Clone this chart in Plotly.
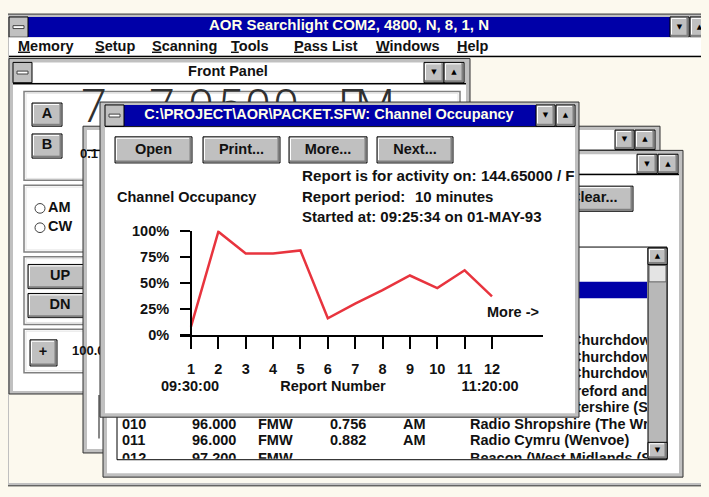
import plotly.graph_objects as go

# ---------------- data ----------------
report_numbers = [1, 2, 3, 4, 5, 6, 7, 8, 9, 10, 11, 12]
occupancy_pct = [8, 99, 78, 78, 81, 16, 30, 43, 57, 45, 62, 37]
y_tick_values = [0, 25, 50, 75, 100]
y_tick_labels = ["0%", "25%", "50%", "75%", "100%"]
x_tick_labels = [str(n) for n in report_numbers]
first_report_time = "09:30:00"
last_report_time = "11:20:00"
menu_items = ["Memory", "Setup", "Scanning", "Tools", "Pass List", "Windows", "Help"]
list_rows = [
    ["010", "96.000", "FMW", "0.756", "AM", "Radio Shropshire (The Wrekin)"],
    ["011", "96.000", "FMW", "0.882", "AM", "Radio Cymru (Wenvoe)"],
    ["012", "97.200", "FMW", "", "", "Beacon (West Midlands (Shrewsbury)"],
]
hidden_list_names = ["Churchdown)", "Churchdown)", "Churchdown)", "Hereford and Worcester", "Worcestershire (Stourport)"]

# ---------------- helpers ----------------
# The page body keeps an 8 px margin, so the figure is 16 px smaller than the
# window and every reference pixel coordinate is shifted by that margin.
PAGE_W, PAGE_H = 709, 497
M = 8
W, H = PAGE_W - 2 * M, PAGE_H - 2 * M
FONT = "Liberation Sans, Arial, sans-serif"
FS = 14.5
BLUE = "#0000A8"
GRAY = "#C0C0C0"
DARK = "#303030"
CREAM = "#FCF9EE"


def fx(x):
    return (x - M) / W


def fy(y):
    return 1 - (y - M) / H


shapes = []


def rect(x0, y0, x1, y1, fill, line=None, lw=1):
    shapes.append(dict(type="rect", xref="paper", yref="paper", layer="below",
                       x0=fx(x0), x1=fx(x1), y0=fy(y1), y1=fy(y0),
                       fillcolor=fill if fill else "rgba(0,0,0,0)",
                       line=dict(color=line if line else "rgba(0,0,0,0)", width=lw if line else 0)))


def seg(x0, y0, x1, y1, color, lw=1):
    shapes.append(dict(type="line", xref="paper", yref="paper", layer="below",
                       x0=fx(x0), x1=fx(x1), y0=fy(y0), y1=fy(y1),
                       line=dict(color=color, width=lw)))


def circle(cx, cy, r, line="#404040"):
    shapes.append(dict(type="circle", xref="paper", yref="paper", layer="below",
                       x0=fx(cx - r), x1=fx(cx + r), y0=fy(cy + r), y1=fy(cy - r),
                       fillcolor="#FFFFFF", line=dict(color=line, width=1)))


def button(x0, y0, x1, y1):
    rect(x0, y0, x1, y1, GRAY, "#000000", 1)
    seg(x0 + 1, y1 - 1.5, x1 - 1, y1 - 1.5, "#808080", 2)
    seg(x1 - 1.5, y0 + 1, x1 - 1.5, y1 - 1, "#808080", 2)
    seg(x0 + 1.5, y0 + 1.5, x1 - 3, y0 + 1.5, "#FFFFFF", 1)
    seg(x0 + 1.5, y0 + 1.5, x0 + 1.5, y1 - 3, "#FFFFFF", 1)


def sysbox(x0, y0, x1, y1):
    rect(x0, y0, x1, y1, GRAY, "#000000", 1)
    my = (y0 + y1) / 2
    rect(x0 + 4, my - 1.5, x1 - 4, my + 1.5, "#FFFFFF", "#404040", 1)


regions = []
texts = []


def region(x0, y0, x1, y1):
    x0, y0 = max(x0, M), max(y0, M)
    x1, y1 = min(x1, PAGE_W - M), min(y1, PAGE_H - M)
    regions.append((x0, y0, x1, y1))
    return len(regions) + 1  # axis index (main chart uses 1)


def T(reg, x, y, s, anchor="left", size=FS, color="#111111", weight=700, family=FONT):
    texts.append(dict(reg=reg, x=x, y=y, s=s, anchor=anchor, size=size, color=color,
                      weight=weight, family=family))


# ---------------- application window ----------------
rect(4, 6, 714, 494, GRAY, DARK, 1)
rect(28, 9, 670, 30, BLUE)
sysbox(9, 9, 28, 30)
button(670, 9, 689, 30)
button(690, 9, 709, 30)
rect(9, 30, 714, 49, "#FFFFFF")
seg(9, 50, 714, 50, "#000000", 1.5)
rect(9, 51, 714, 491, CREAM)

# ---------------- Front Panel window ----------------
rect(9, 52, 470, 399, GRAY, DARK, 1)
rect(32, 56, 424, 77, "#FFFFFF")
sysbox(13, 56, 32, 77)
button(424, 56, 444, 77)
button(444, 56, 464, 77)
seg(13, 78, 466, 78, "#000000", 1.5)
rect(13, 79, 466, 396, "#FFFFFF")
for gy0, gy1 in [(86, 178), (183, 252), (257, 327), (332, 377)]:
    rect(24, gy0, 460, gy1, None, "#808080", 1.5)
    rect(26, gy0 + 2, 458, gy1 - 2, None, "#E4E4E4", 1)
button(32, 98, 62, 122)
button(32, 130, 62, 155)
circle(40, 207, 5)
circle(40, 227, 5)
button(28, 265, 93, 290)
button(28, 295, 93, 320)
button(30, 343, 57, 370)

# ---------------- background window B ----------------
rect(83, 122, 660, 460, GRAY, DARK, 1)
rect(87, 126, 615, 146, "#FFFFFF")
button(615, 126, 634, 146)
button(635, 126, 655, 146)
seg(87, 147, 656, 147, "#000000", 1.5)
rect(87, 148, 656, 456, "#FFFFFF")
seg(99, 400, 99, 445, "#606060", 1.5)

# ---------------- background window C ----------------
rect(103, 147, 683, 485, GRAY, DARK, 1)
rect(107, 151, 637, 171, "#FFFFFF")
button(637, 151, 657, 171)
button(658, 151, 678, 171)
seg(107, 172, 679, 172, "#000000", 1.5)
rect(107, 173, 679, 481, "#FFFFFF")
button(560, 184, 633, 210)
rect(117, 247, 667, 467, "#FFFFFF", "#000000", 1)
rect(118, 283, 647, 300, BLUE)
rect(648, 248, 667, 466, "#B8B8B8", "#000000", 1)
button(648, 248, 667, 265)
rect(649, 266, 666, 283, "#E4E4E4", "#606060", 1)
button(648, 449, 667, 466)

# ---------------- Channel Occupancy window (front) ----------------
rect(100, 97, 579, 423, GRAY, DARK, 1)
rect(124, 100, 536, 122, BLUE)
sysbox(105, 100, 124, 122)
button(536, 100, 555, 122)
button(556, 100, 575, 122)
seg(105, 122.5, 575, 122.5, "#000000", 1)
rect(105, 123, 575, 419, "#FFFFFF")
for bx0, bx1 in [(115, 192), (203, 280), (289, 367), (377, 453)]:
    button(bx0, 133, bx1, 160)

# ---------------- texts ----------------
PAGE = region(0, 0, PAGE_W, PAGE_H)
FP_LEFT = region(13, 79, 100, 396)
FP_TOP = region(100, 79, 466, 97)
CHAN = region(105, 123, 575, 419)
C_RIGHT = region(579, 173, 647, 466)
C_BOTTOM = region(117, 423, 647, 466)

T(PAGE, 349, 19, "AOR Searchlight COM2, 4800, N, 8, 1, N", "center", 15, "#FFFFE8")
menu_x = [18, 95, 152, 231, 294, 376, 457]
for mx, item in zip(menu_x, menu_items):
    T(PAGE, mx, 40, "<u>" + item[0] + "</u>" + item[1:], "left")
T(PAGE, 228, 66, "Front Panel", "center")
T(PAGE, 329, 111, "C:\\PROJECT\\AOR\\PACKET.SFW: Channel Occupancy", "center", FS, "#FFFFE8")
for (ax, ay, glyph) in [(679.5, 19.5, "▼"), (699.5, 19.5, "▲"), (434, 66.5, "▼"), (454, 66.5, "▲"),
                        (624.5, 136, "▼"), (645, 136, "▲"), (647, 161, "▼"), (668, 161, "▲"),
                        (545.5, 111, "▼"), (565.5, 111, "▲"), (657.5, 256.5, "▲"), (657.5, 457.5, "▼")]:
    T(PAGE, ax, ay, glyph, "center", 7, "#000000", 400, "DejaVu Sans")

# Front panel contents
for reg in (FP_LEFT, FP_TOP):
    for gx, g in [(94, "7"), (162, "7"), (201, "0"), (230, "5"), (258, "0"), (286, "0"), (351, "F"), (375, "M")]:
        T(reg, gx, 106, g, "center", 46, "#303030", 300, "Roboto, Liberation Sans, sans-serif")
T(FP_LEFT, 47, 110, "A", "center")
T(FP_LEFT, 47, 142, "B", "center")
T(FP_LEFT, 80, 152, "0.1", "left", 13)
T(FP_LEFT, 48, 207, "AM", "left")
T(FP_LEFT, 48, 227, "CW", "left")
T(FP_LEFT, 60, 277, "UP", "center")
T(FP_LEFT, 60, 307, "DN", "center")
T(FP_LEFT, 43, 356, "+", "center")
T(FP_LEFT, 72, 355, "100.000", "left", 13)

# Channel window contents
for bx, lbl in [(153.5, "Open"), (241.5, "Print..."), (328, "More..."), (415, "Next...")]:
    T(CHAN, bx, 147, lbl, "center")
T(CHAN, 302, 175, "Report is for activity on: 144.65000 / FM", "left", 15.2)
T(CHAN, 302, 197, "Report period:", "left", 15)
T(CHAN, 415, 197, "10 minutes", "left", 15)
T(CHAN, 302, 217, "Started at: 09:25:34 on 01-MAY-93", "left", 15)
T(CHAN, 117, 197, "Channel Occupancy", "left")
T(CHAN, 487, 316, "More ->", "left")
T(CHAN, 190, 392, first_report_time, "center")
T(CHAN, 333, 392, "Report Number", "center")
T(CHAN, 490, 392, last_report_time, "center")

# Window C contents (visible parts)
T(C_RIGHT, 570, 197, "Clear...", "left")
name_offsets = [571, 571, 571, 557, 524]
for ny, nx, nm in zip([345, 362, 379, 397, 414], name_offsets, hidden_list_names):
    T(C_RIGHT, nx, ny, nm, "left")
col_x = [122, 192, 258, 330, 403, 470]
for ry, row in zip([431, 448, 467], list_rows):
    for cx, val in zip(col_x, row):
        if val:
            T(C_BOTTOM, cx, ry, val, "left")

# ---------------- figure ----------------
fig = go.Figure()

# main chart (through Plotly axes)
fig.add_trace(go.Scatter(
    x=report_numbers, y=occupancy_pct, mode="lines",
    line=dict(color="#E8343E", width=2.5), cliponaxis=False,
    hoverinfo="skip", showlegend=False, xaxis="x", yaxis="y"))

pos = {"left": "middle right", "center": "middle center", "right": "middle left"}
for t in texts:
    i = t["reg"]
    fig.add_trace(go.Scatter(
        x=[t["x"]], y=[t["y"]], mode="text", text=[t["s"]],
        textposition=pos[t["anchor"]],
        textfont=dict(family=t["family"], size=t["size"], color=t["color"], weight=t["weight"]),
        cliponaxis=True, hoverinfo="skip", showlegend=False,
        xaxis="x%d" % i, yaxis="y%d" % i))

px_per_unit = (492 - 191) / 11.0
tickfont = dict(family=FONT, size=FS, color="#111111", weight=700)
layout = dict(
    width=W, height=H, margin=dict(l=0, r=0, t=0, b=0),
    paper_bgcolor=CREAM, plot_bgcolor="rgba(0,0,0,0)",
    shapes=shapes, showlegend=False,
    xaxis=dict(domain=[fx(180), fx(543)],
               range=[1 - 11 / px_per_unit, 1 + (543 - 191) / px_per_unit],
               showline=True, linecolor="#000000", linewidth=2,
               ticks="outside", ticklen=12, tickwidth=2, tickcolor="#000000",
               tickmode="array", tickvals=report_numbers, ticktext=x_tick_labels,
               tickfont=tickfont, ticklabelstandoff=8,
               showgrid=False, zeroline=False, fixedrange=True, anchor="y"),
    yaxis=dict(domain=[fy(338), fy(230)], range=[0, 100],
               anchor="free", position=fx(191),
               showline=True, linecolor="#000000", linewidth=2,
               ticks="outside", ticklen=10, tickwidth=2, tickcolor="#000000",
               tickmode="array", tickvals=y_tick_values, ticktext=y_tick_labels,
               tickfont=tickfont, ticklabelstandoff=8,
               showgrid=False, zeroline=False, fixedrange=True),
)
for k, (x0, y0, x1, y1) in enumerate(regions):
    i = k + 2
    layout["xaxis%d" % i] = dict(domain=[fx(x0), fx(x1)], range=[x0, x1], visible=False,
                                 anchor="y%d" % i, fixedrange=True)
    layout["yaxis%d" % i] = dict(domain=[fy(y1), fy(y0)], range=[y1, y0], visible=False,
                                 anchor="x%d" % i, fixedrange=True)
fig.update_layout(**layout)

fig.write_html("out.html", config={"displayModeBar": False},
               post_script="document.body.style.background='%s';" % CREAM)
